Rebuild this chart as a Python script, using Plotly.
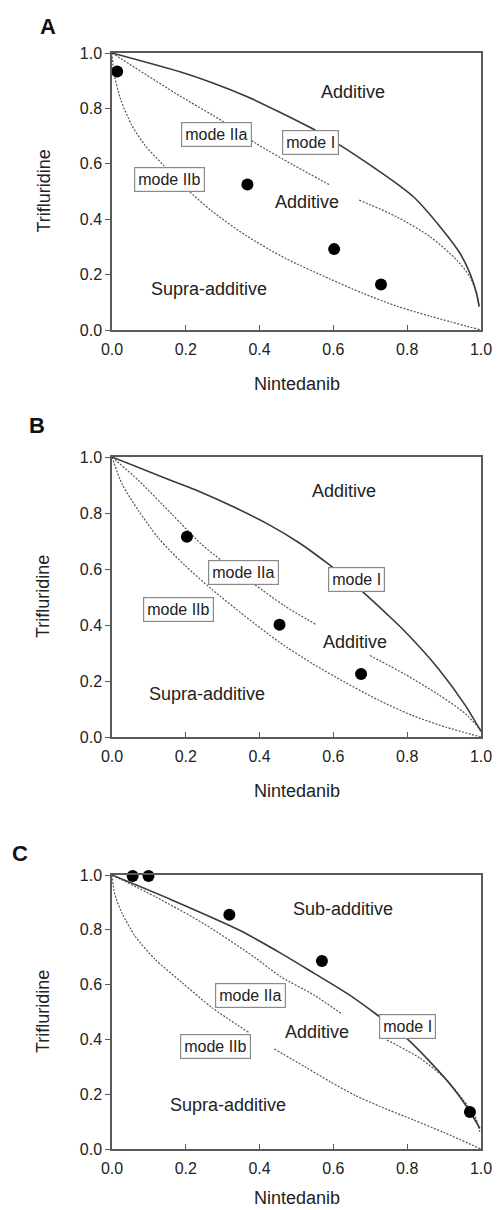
import plotly.graph_objects as go

# ---------------- Panel A ----------------
A_mode1_x = [0.0, 0.184, 0.275, 0.365, 0.455, 0.555, 0.624, 0.690, 0.780, 0.817, 0.889, 0.943, 0.970, 0.988, 0.995]
A_mode1_y = [1.0, 0.932, 0.891, 0.843, 0.786, 0.718, 0.662, 0.604, 0.520, 0.481, 0.373, 0.277, 0.205, 0.132, 0.084]
A_mode2a_x = [0.0, 0.184, 0.302, 0.390, 0.491, 0.591, None, 0.670, 0.771, 0.862, 0.934, 0.970, 0.988, 0.995]
A_mode2a_y = [1.0, 0.845, 0.752, 0.674, 0.596, 0.523, None, 0.469, 0.409, 0.337, 0.253, 0.192, 0.132, 0.084]
A_mode2b_x = [0.0, 0.005, 0.023, 0.054, 0.090, 0.140, 0.201, 0.270, 0.362, 0.471, 0.591, 0.681, 0.772, 0.862, 1.0]
A_mode2b_y = [1.0, 0.930, 0.834, 0.738, 0.666, 0.594, 0.511, 0.430, 0.342, 0.258, 0.184, 0.132, 0.086, 0.050, 0.0]
A_pts_x = [0.014, 0.367, 0.602, 0.729]
A_pts_y = [0.933, 0.525, 0.292, 0.164]

# ---------------- Panel B ----------------
B_mode1_x = [0.0, 0.162, 0.238, 0.329, 0.419, 0.509, 0.586, 0.672, 0.744, 0.794, 0.884, 0.957, 1.0]
B_mode1_y = [1.0, 0.915, 0.876, 0.822, 0.763, 0.692, 0.618, 0.527, 0.440, 0.377, 0.245, 0.114, 0.02]
B_mode2a_x = [0.0, 0.072, 0.162, 0.241, 0.298, 0.384, 0.467, 0.555, None, 0.699, 0.794, 0.884, 0.957, 1.0]
B_mode2a_y = [1.0, 0.916, 0.796, 0.690, 0.629, 0.547, 0.469, 0.400, None, 0.291, 0.224, 0.152, 0.084, 0.024]
B_mode2b_x = [0.0, 0.027, 0.072, 0.126, 0.199, 0.271, 0.361, 0.451, 0.542, 0.632, 0.722, 0.812, 0.903, 1.0]
B_mode2b_y = [1.0, 0.904, 0.808, 0.710, 0.611, 0.527, 0.431, 0.341, 0.263, 0.195, 0.132, 0.078, 0.036, 0.0]
B_pts_x = [0.203, 0.454, 0.675]
B_pts_y = [0.715, 0.401, 0.225]

# ---------------- Panel C ----------------
C_mode1_x = [0.0, 0.162, 0.343, 0.457, 0.547, 0.637, 0.718, 0.795, 0.862, 0.925, 0.966, 0.997]
C_mode1_y = [1.0, 0.909, 0.800, 0.715, 0.642, 0.568, 0.490, 0.408, 0.318, 0.222, 0.145, 0.075]
C_mode2a_x = [0.0, 0.117, 0.253, 0.388, 0.457, 0.547, 0.623, None, 0.745, 0.835, 0.907, 0.952, 0.984, 0.997]
C_mode2a_y = [1.0, 0.921, 0.819, 0.698, 0.629, 0.562, 0.493, None, 0.398, 0.331, 0.252, 0.179, 0.118, 0.063]
C_mode2b_x = [0.0, 0.007, 0.027, 0.063, 0.117, 0.190, 0.271, 0.370, None, 0.440, 0.523, 0.592, 0.660, 0.727, 0.817, 0.900, 1.0]
C_mode2b_y = [1.0, 0.933, 0.861, 0.776, 0.692, 0.607, 0.516, 0.426, None, 0.365, 0.300, 0.245, 0.195, 0.155, 0.106, 0.060, 0.0]
C_pts_x = [0.056, 0.099, 0.318, 0.569, 0.970]
C_pts_y = [0.996, 0.996, 0.855, 0.686, 0.135]

tick_vals = [0.0, 0.2, 0.4, 0.6, 0.8, 1.0]
tick_text = ["0.0", "0.2", "0.4", "0.6", "0.8", "1.0"]

# label texts and positions per panel
A_labels = [("Additive", 0.653, 0.861), ("Additive", 0.529, 0.462), ("Supra-additive", 0.264, 0.147)]
B_labels = [("Additive", 0.629, 0.878), ("Additive", 0.659, 0.339), ("Supra-additive", 0.257, 0.153)]
C_labels = [("Sub-additive", 0.625, 0.875), ("Additive", 0.555, 0.426), ("Supra-additive", 0.314, 0.160)]
A_boxes = [("mode IIa", 0.282, 0.707), ("mode I", 0.537, 0.678), ("mode IIb", 0.157, 0.545)]
B_boxes = [("mode IIa", 0.357, 0.586), ("mode I", 0.663, 0.562), ("mode IIb", 0.180, 0.456)]
C_boxes = [("mode IIa", 0.375, 0.559), ("mode I", 0.800, 0.446), ("mode IIb", 0.280, 0.374)]

W, H = 497, 1210
FONT = "Arial, Liberation Sans, sans-serif"
TXT = "#222222"

panels = [
    dict(name="A", top=53, bottom=330, letter_x=48, letter_y=27, title_gap=54,
         m1=(A_mode1_x, A_mode1_y), m2a=(A_mode2a_x, A_mode2a_y), m2b=(A_mode2b_x, A_mode2b_y),
         pts=(A_pts_x, A_pts_y), labels=A_labels, boxes=A_boxes),
    dict(name="B", top=457, bottom=737, letter_x=37, letter_y=425, title_gap=54,
         m1=(B_mode1_x, B_mode1_y), m2a=(B_mode2a_x, B_mode2a_y), m2b=(B_mode2b_x, B_mode2b_y),
         pts=(B_pts_x, B_pts_y), labels=B_labels, boxes=B_boxes),
    dict(name="C", top=875, bottom=1149, letter_x=20, letter_y=853, title_gap=49,
         m1=(C_mode1_x, C_mode1_y), m2a=(C_mode2a_x, C_mode2a_y), m2b=(C_mode2b_x, C_mode2b_y),
         pts=(C_pts_x, C_pts_y), labels=C_labels, boxes=C_boxes),
]
x_left, x_right = 112, 481

fig = go.Figure()
layout = dict(
    template="none",
    width=W, height=H, autosize=False,
    margin=dict(l=0, r=0, t=0, b=0, pad=0, autoexpand=False),
    paper_bgcolor="white", plot_bgcolor="white", showlegend=False,
    font=dict(family=FONT, color=TXT, size=16),
)
annotations = []

for i, p in enumerate(panels):
    n = "" if i == 0 else str(i + 1)
    xa, ya = "x" + n, "y" + n
    dot_line = dict(color="#555555", width=1.2, dash="2px,1.5px", shape="spline", smoothing=0.7)
    fig.add_trace(go.Scatter(x=p["m2b"][0], y=p["m2b"][1], mode="lines", line=dot_line,
                             xaxis=xa, yaxis=ya, connectgaps=False, hoverinfo="skip"))
    fig.add_trace(go.Scatter(x=p["m2a"][0], y=p["m2a"][1], mode="lines", line=dot_line,
                             xaxis=xa, yaxis=ya, connectgaps=False, hoverinfo="skip"))
    fig.add_trace(go.Scatter(x=p["m1"][0], y=p["m1"][1], mode="lines",
                             line=dict(color="#3a3a3a", width=1.6, shape="spline", smoothing=0.7),
                             xaxis=xa, yaxis=ya, hoverinfo="skip"))
    fig.add_trace(go.Scatter(x=p["pts"][0], y=p["pts"][1], mode="markers",
                             marker=dict(color="black", size=12, line=dict(width=0)),
                             cliponaxis=False, xaxis=xa, yaxis=ya))
    ydom = [1 - p["bottom"] / H, 1 - p["top"] / H]
    axis_common = dict(range=[0, 1], showgrid=False, zeroline=False, showline=True,
                       linecolor="#5a5a5a", linewidth=1.5, mirror=True, automargin=False,
                       tickvals=tick_vals, ticktext=tick_text, tickcolor="#5a5a5a",
                       tickwidth=1.2, ticklen=5,
                       tickfont=dict(family=FONT, size=16, color=TXT), fixedrange=True)
    layout["xaxis" + n] = dict(axis_common, domain=[x_left / W, x_right / W], anchor=ya,
                                ticks="inside", ticklabelstandoff=4)
    layout["yaxis" + n] = dict(axis_common, domain=ydom, anchor=xa, ticks="outside")
    annotations.append(dict(text="Nintedanib", xref="paper", yref="paper",
                            x=(x_left + x_right) / 2 / W, y=1 - (p["bottom"] + p["title_gap"]) / H,
                            showarrow=False, font=dict(size=18, family=FONT, color=TXT),
                            xanchor="center", yanchor="middle"))
    annotations.append(dict(text="Trifluridine", xref="paper", yref="paper",
                            x=43 / W, y=1 - (p["top"] + p["bottom"]) / 2 / H, textangle=-90,
                            showarrow=False, font=dict(size=18, family=FONT, color=TXT),
                            xanchor="center", yanchor="middle"))
    annotations.append(dict(text="<b>" + p["name"] + "</b>", xref="paper", yref="paper",
                            x=p["letter_x"] / W, y=1 - p["letter_y"] / H, showarrow=False,
                            font=dict(size=22, family=FONT, color="#111111"),
                            xanchor="center", yanchor="middle"))
    for t, lx, ly in p["labels"]:
        annotations.append(dict(text=t, xref=xa, yref=ya, x=lx, y=ly, showarrow=False,
                                font=dict(size=18, family=FONT, color=TXT),
                                xanchor="center", yanchor="middle"))
    for t, bx, by in p["boxes"]:
        annotations.append(dict(text=t, xref=xa, yref=ya, x=bx, y=by, showarrow=False,
                                font=dict(size=16, family=FONT, color=TXT),
                                bgcolor="white", bordercolor="#8a8a8a", borderwidth=1.2,
                                borderpad=3, xanchor="center", yanchor="middle"))

layout["annotations"] = annotations
fig.update_layout(**layout)
fig.write_html("out.html", config={"responsive": False, "displayModeBar": False},
               post_script="document.body.style.margin='0';document.body.style.padding='0';")
